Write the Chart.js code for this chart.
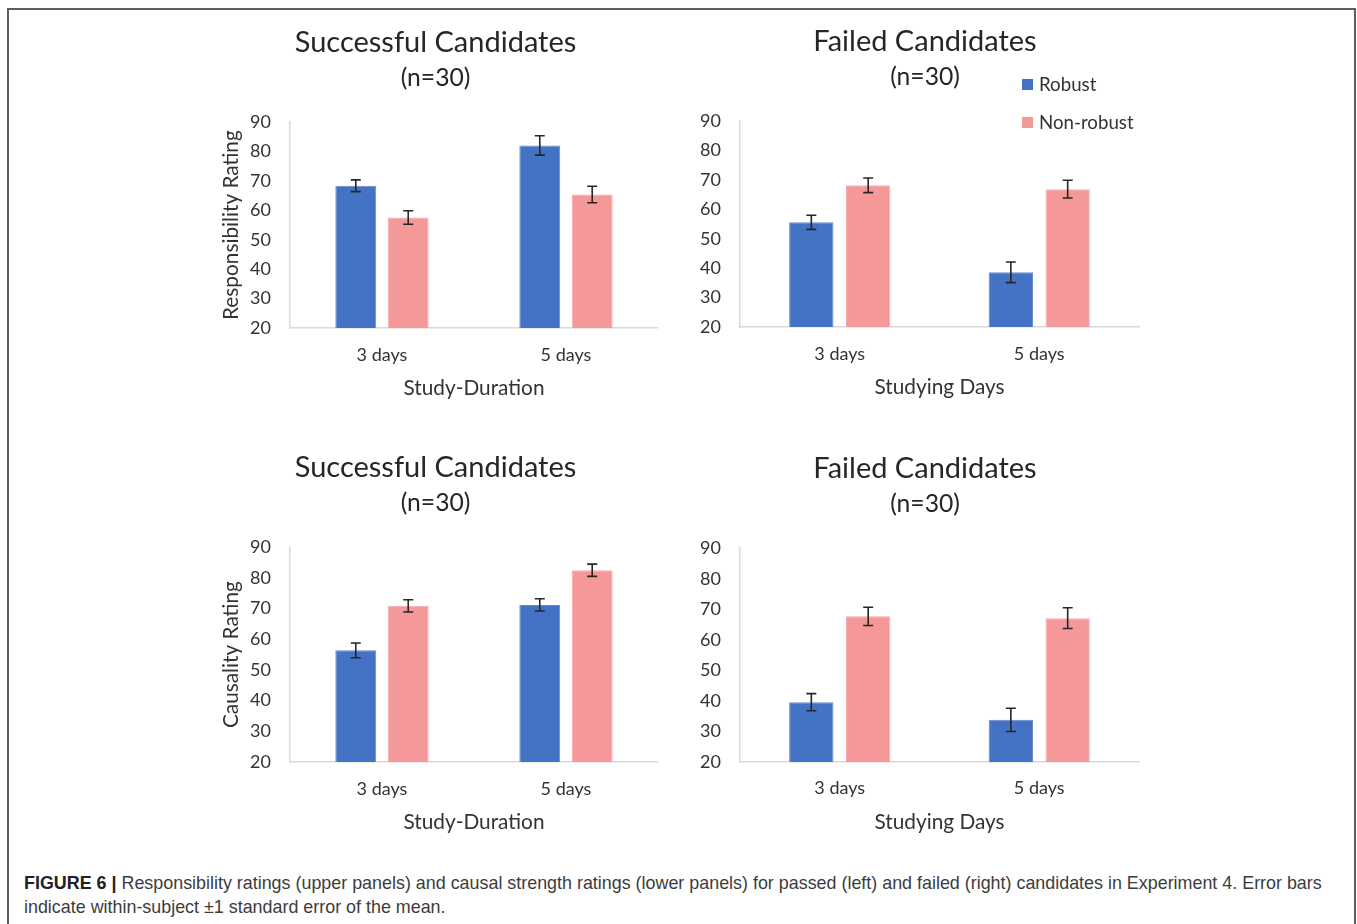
<!DOCTYPE html>
<html>
<head>
<meta charset="utf-8">
<script src="https://cdn.jsdelivr.net/npm/chart.js@4/dist/chart.umd.min.js"></script>
<style>
  html, body { margin: 0; padding: 0; background: #fff; }
  #page { position: relative; width: 1357px; height: 924px; overflow: hidden; background: #fff; }
  #frame { position: absolute; left: 7px; top: 8px; width: 1345px; height: 940px;
           border-top: 2px solid #5e5e5e; border-left: 2px solid #5e5e5e; border-right: 2px solid #5e5e5e; }
  canvas { position: absolute; }
  .legend-item { position: absolute; left: 1022px; height: 22px; display: flex; align-items: center;
                 font-family: Lato, "Open Sans", sans-serif; font-size: 18.7px; color: #333; }
  .legend-item span.sw { display: inline-block; width: 11px; height: 11px; margin-right: 6px; }
  #caption { position: absolute; left: 24px; top: 871px; font-family: "Liberation Sans", Arial, sans-serif;
             font-size: 17.9px; line-height: 24px; color: #3c3c3c; white-space: nowrap; }
  #caption b { color: #222; }
</style>
</head>
<body>
<div id="page">
  <div id="frame"></div>
  <canvas id="c1" width="458" height="393" style="left:200px; top:15px;"></canvas>
  <canvas id="c2" width="450" height="393" style="left:700px; top:14px;"></canvas>
  <canvas id="c3" width="458" height="402" style="left:200px; top:440px;"></canvas>
  <canvas id="c4" width="450" height="401" style="left:700px; top:441px;"></canvas>
  <div class="legend-item" style="top:73px;"><span class="sw" style="background:#4472C4"></span>Robust</div>
  <div class="legend-item" style="top:111px;"><span class="sw" style="background:#F4989A"></span>Non-robust</div>
  <div id="caption"><b>FIGURE 6 |</b> Responsibility ratings (upper panels) and causal strength ratings (lower panels) for passed (left) and failed (right) candidates in Experiment 4. Error bars<br>indicate within-subject ±1 standard error of the mean.</div>
</div>
<script>
// Conditions on the x axis
const categories = ['3 days', '5 days'];
const seriesNames = ['Robust', 'Non-robust'];

// Responsibility ratings, successful candidates
const respSuccessRobust = [68.4, 82.1];
const respSuccessRobustErr = [2.0, 3.3];
const respSuccessNonRobust = [57.6, 65.4];
const respSuccessNonRobustErr = [2.3, 2.8];

// Responsibility ratings, failed candidates
const respFailedRobust = [55.6, 38.6];
const respFailedRobustErr = [2.4, 3.5];
const respFailedNonRobust = [68.2, 66.9];
const respFailedNonRobustErr = [2.5, 3.0];

// Causality ratings, successful candidates
const causSuccessRobust = [56.4, 71.2];
const causSuccessRobustErr = [2.4, 2.0];
const causSuccessNonRobust = [70.9, 82.5];
const causSuccessNonRobustErr = [2.0, 2.0];

// Causality ratings, failed candidates
const causFailedRobust = [39.6, 33.8];
const causFailedRobustErr = [2.8, 3.8];
const causFailedNonRobust = [67.7, 67.1];
const causFailedNonRobustErr = [3.0, 3.4];

// Y axis range and ticks
const yMin = 20;
const yMax = 90;
const yStep = 10;

const BLUE = '#4472C4';
const PINK = '#F4989A';
const TEXT = '#333333';
const AXIS = '#D9D9D9';

Chart.defaults.font.family = 'Lato, "Open Sans", sans-serif';
Chart.defaults.color = TEXT;

// Draws ±error whiskers on top of each bar
const errorBars = {
  id: 'errorBars',
  afterDatasetsDraw(chart) {
    const ctx = chart.ctx;
    const yScale = chart.scales.y;
    ctx.save();
    ctx.strokeStyle = '#262626';
    ctx.lineWidth = 1.6;
    chart.data.datasets.forEach((ds, di) => {
      const meta = chart.getDatasetMeta(di);
      meta.data.forEach((bar, i) => {
        const v = ds.data[i], e = ds.errors[i];
        const x = bar.x;
        const yTop = yScale.getPixelForValue(v + e);
        const yBot = yScale.getPixelForValue(v - e);
        ctx.beginPath();
        ctx.moveTo(x, yTop); ctx.lineTo(x, yBot);
        ctx.moveTo(x - 5, yTop); ctx.lineTo(x + 5, yTop);
        ctx.moveTo(x - 5, yBot); ctx.lineTo(x + 5, yBot);
        ctx.stroke();
      });
    });
    ctx.restore();
  }
};

function makePanel(id, cfg) {
  const scales = {
    x: {
      grid: { display: false, drawTicks: false },
      border: { display: true, color: AXIS, width: 1.5 },
      ticks: { font: { size: 18 }, color: TEXT, padding: cfg.xTickPad },
      title: { display: true, text: cfg.xTitle, color: TEXT,
               font: { size: 20.8 }, padding: { top: 0, bottom: 7.5 } },
      afterFit(scale) { scale.height = 80; }
    },
    y: {
      min: yMin, max: yMax,
      grid: { display: false, drawTicks: false },
      border: { display: true, color: AXIS, width: 1.5 },
      ticks: { stepSize: yStep, font: { size: 18 }, color: TEXT, padding: 19 },
      title: { display: !!cfg.yTitle, text: cfg.yTitle || '', color: TEXT,
               font: { size: 20.8 }, padding: { top: 5.5, bottom: 0 } },
      afterFit(scale) { scale.width = cfg.yWidth; }
    }
  };
  if (cfg.rightGutter) {
    // empty right-hand margin so the titles stay centred over the whole panel
    scales.gutter = {
      type: 'linear', position: 'right', display: true,
      grid: { display: false, drawTicks: false },
      border: { display: false },
      ticks: { display: false },
      afterFit(scale) { scale.width = cfg.rightGutter; }
    };
  }
  new Chart(document.getElementById(id), {
    type: 'bar',
    data: {
      labels: categories,
      datasets: [
        { label: seriesNames[0], data: cfg.robust, errors: cfg.robustErr,
          backgroundColor: BLUE, borderColor: '#6688cc', borderWidth: 1,
          categoryPercentage: 0.57, barPercentage: 0.78 },
        { label: seriesNames[1], data: cfg.nonRobust, errors: cfg.nonRobustErr,
          backgroundColor: PINK, borderColor: '#f6aaab', borderWidth: 1,
          categoryPercentage: 0.57, barPercentage: 0.78 }
      ]
    },
    options: {
      responsive: false,
      animation: false,
      layout: { padding: { left: cfg.leftPad, right: 0, top: 0, bottom: 0 } },
      plugins: {
        legend: { display: false },
        tooltip: { enabled: false },
        title: {
          display: true, text: cfg.title, color: '#262626',
          font: { size: 29, weight: 'normal' },
          padding: { top: 10, bottom: 0 }
        },
        subtitle: {
          display: true, text: '(n=30)', color: '#262626',
          font: { size: 24.7, weight: 'normal' },
          padding: { top: 3.6, bottom: 29.2 }
        }
      },
      scales
    },
    plugins: [errorBars]
  });
}

makePanel('c1', {
  title: 'Successful Candidates', xTitle: 'Study-Duration', yTitle: 'Responsibility Rating',
  robust: respSuccessRobust, robustErr: respSuccessRobustErr,
  nonRobust: respSuccessNonRobust, nonRobustErr: respSuccessNonRobustErr,
  yWidth: 77, leftPad: 13, rightGutter: 0, xTickPad: 16
});
makePanel('c2', {
  title: 'Failed Candidates', xTitle: 'Studying Days',
  robust: respFailedRobust, robustErr: respFailedRobustErr,
  nonRobust: respFailedNonRobust, nonRobustErr: respFailedNonRobustErr,
  yWidth: 40, leftPad: 0, rightGutter: 11, xTickPad: 16
});
makePanel('c3', {
  title: 'Successful Candidates', xTitle: 'Study-Duration', yTitle: 'Causality Rating',
  robust: causSuccessRobust, robustErr: causSuccessRobustErr,
  nonRobust: causSuccessNonRobust, nonRobustErr: causSuccessNonRobustErr,
  yWidth: 77, leftPad: 13, rightGutter: 0, xTickPad: 16
});
makePanel('c4', {
  title: 'Failed Candidates', xTitle: 'Studying Days',
  robust: causFailedRobust, robustErr: causFailedRobustErr,
  nonRobust: causFailedNonRobust, nonRobustErr: causFailedNonRobustErr,
  yWidth: 40, leftPad: 0, rightGutter: 11, xTickPad: 15.2
});
</script>
</body>
</html>
